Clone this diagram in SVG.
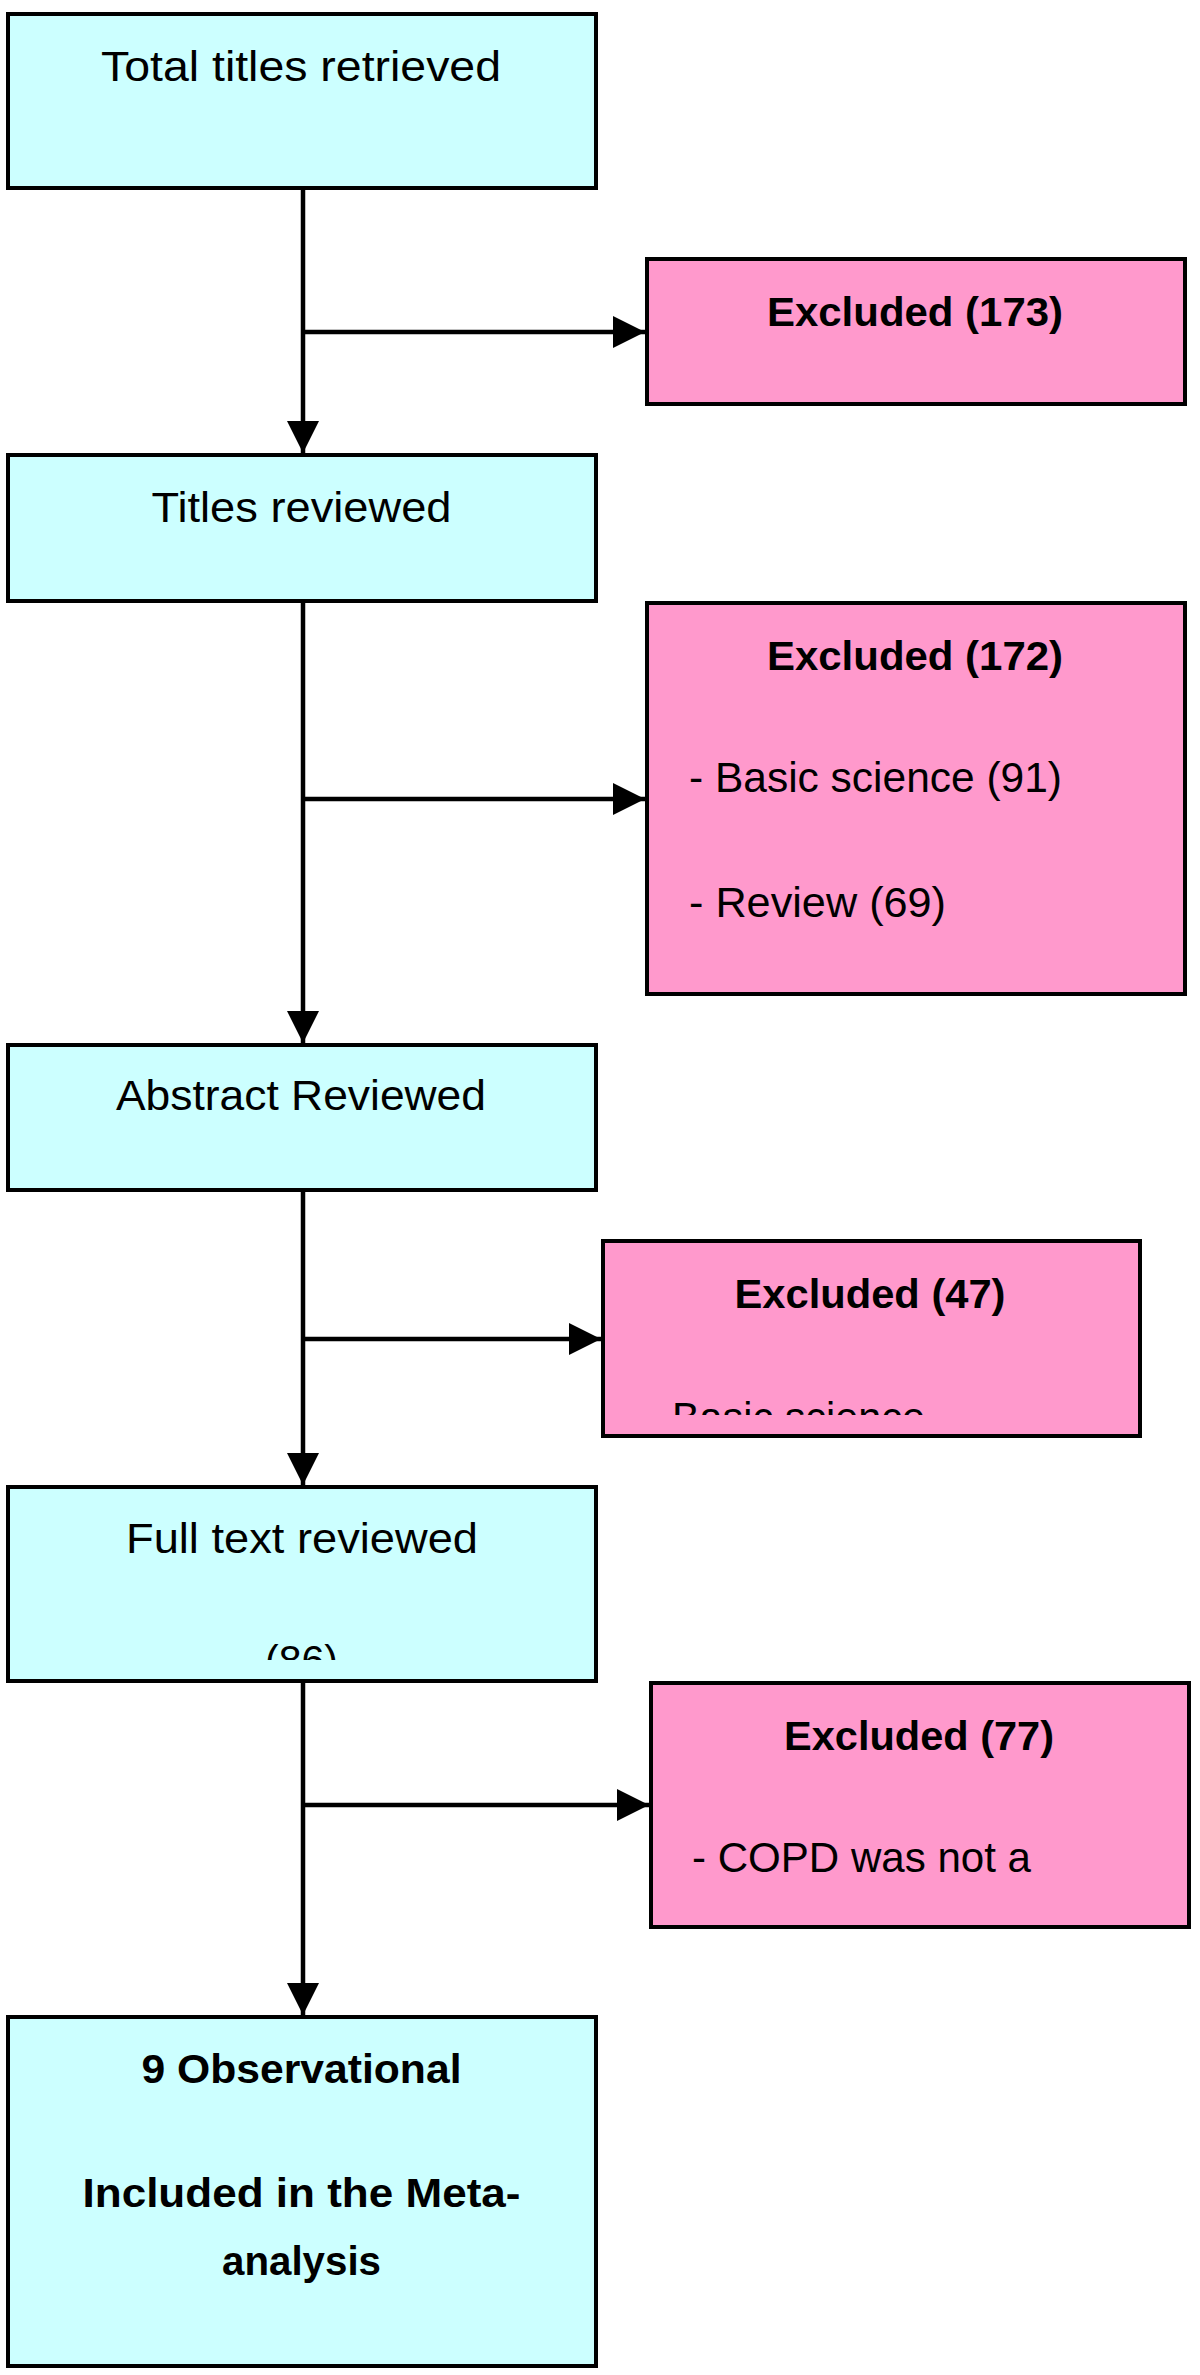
<svg xmlns="http://www.w3.org/2000/svg" width="1200" height="2375" viewBox="0 0 1200 2375">
<style>
.main{fill:#CCFFFF;stroke:#000;stroke-width:4}
.excl{fill:#FF99CC;stroke:#000;stroke-width:4}
text{font-family:"Liberation Sans",Arial,sans-serif;font-size:43px;fill:#000}
.b{font-weight:bold;font-size:40px}
.c{text-anchor:middle}
.conn{stroke:#000;stroke-width:4.5;fill:none}
</style>
<defs>
<marker id="ah" markerUnits="userSpaceOnUse" viewBox="0 0 32 32" refX="32" refY="16" markerWidth="32" markerHeight="32" orient="auto">
<path d="M0,0 L32,16 L0,32 z" fill="#000"/>
</marker>
<clipPath id="clip47"><rect x="603" y="1241" width="537" height="174"/></clipPath>
<clipPath id="clipFull"><rect x="8" y="1487" width="588" height="173"/></clipPath>
</defs>
<rect width="1200" height="2375" fill="#fff"/>
<g id="connectors">
<line class="conn" x1="303" y1="190" x2="303" y2="453" marker-end="url(#ah)"/>
<line class="conn" x1="303" y1="332" x2="645" y2="332" marker-end="url(#ah)"/>
<line class="conn" x1="303" y1="603" x2="303" y2="1043" marker-end="url(#ah)"/>
<line class="conn" x1="303" y1="799" x2="645" y2="799" marker-end="url(#ah)"/>
<line class="conn" x1="303" y1="1192" x2="303" y2="1485" marker-end="url(#ah)"/>
<line class="conn" x1="303" y1="1339" x2="601" y2="1339" marker-end="url(#ah)"/>
<line class="conn" x1="303" y1="1683" x2="303" y2="2015" marker-end="url(#ah)"/>
<line class="conn" x1="303" y1="1805" x2="649" y2="1805" marker-end="url(#ah)"/>
</g>
<g id="total">
<rect class="main" x="8" y="14" width="588" height="174"/>
<text class="c" x="301" y="81" textLength="400" lengthAdjust="spacingAndGlyphs">Total titles retrieved</text>
</g>
<g id="excluded173">
<rect class="excl" x="647" y="259" width="538" height="145"/>
<text class="b c" x="915" y="326" textLength="296" lengthAdjust="spacingAndGlyphs">Excluded (173)</text>
</g>
<g id="titles">
<rect class="main" x="8" y="455" width="588" height="146"/>
<text class="c" x="301.5" y="522" textLength="300" lengthAdjust="spacingAndGlyphs">Titles reviewed</text>
</g>
<g id="excluded172">
<rect class="excl" x="647" y="603" width="538" height="391"/>
<text class="b c" x="915" y="670" textLength="296" lengthAdjust="spacingAndGlyphs">Excluded (172)</text>
<text x="689" y="792" textLength="373" lengthAdjust="spacingAndGlyphs">- Basic science (91)</text>
<text x="689" y="917" textLength="257" lengthAdjust="spacingAndGlyphs">- Review (69)</text>
</g>
<g id="abstract">
<rect class="main" x="8" y="1045" width="588" height="145"/>
<text class="c" x="301" y="1110" textLength="370" lengthAdjust="spacingAndGlyphs">Abstract Reviewed</text>
</g>
<g id="excluded47">
<rect class="excl" x="603" y="1241" width="537" height="195"/>
<text class="b c" x="870" y="1308" textLength="271" lengthAdjust="spacingAndGlyphs">Excluded (47)</text>
<text x="672" y="1432" clip-path="url(#clip47)" textLength="253" lengthAdjust="spacingAndGlyphs">Basic science</text>
</g>
<g id="fulltext">
<rect class="main" x="8" y="1487" width="588" height="194"/>
<text class="c" x="302" y="1553" textLength="352" lengthAdjust="spacingAndGlyphs">Full text reviewed</text>
<text class="c" x="301.5" y="1675" clip-path="url(#clipFull)" textLength="73" lengthAdjust="spacingAndGlyphs">(86)</text>
</g>
<g id="excluded77">
<rect class="excl" x="651" y="1683" width="538" height="244"/>
<text class="b c" x="919" y="1750" textLength="270" lengthAdjust="spacingAndGlyphs">Excluded (77)</text>
<text x="692" y="1872" textLength="339" lengthAdjust="spacingAndGlyphs">- COPD was not a</text>
</g>
<g id="included">
<rect class="main" x="8" y="2017" width="588" height="349"/>
<text class="b c" x="301.5" y="2083" textLength="320" lengthAdjust="spacingAndGlyphs">9 Observational</text>
<text class="b c" x="301.5" y="2207" textLength="438" lengthAdjust="spacingAndGlyphs">Included in the Meta-</text>
<text class="b c" x="301.5" y="2275" textLength="159" lengthAdjust="spacingAndGlyphs">analysis</text>
</g>
</svg>
